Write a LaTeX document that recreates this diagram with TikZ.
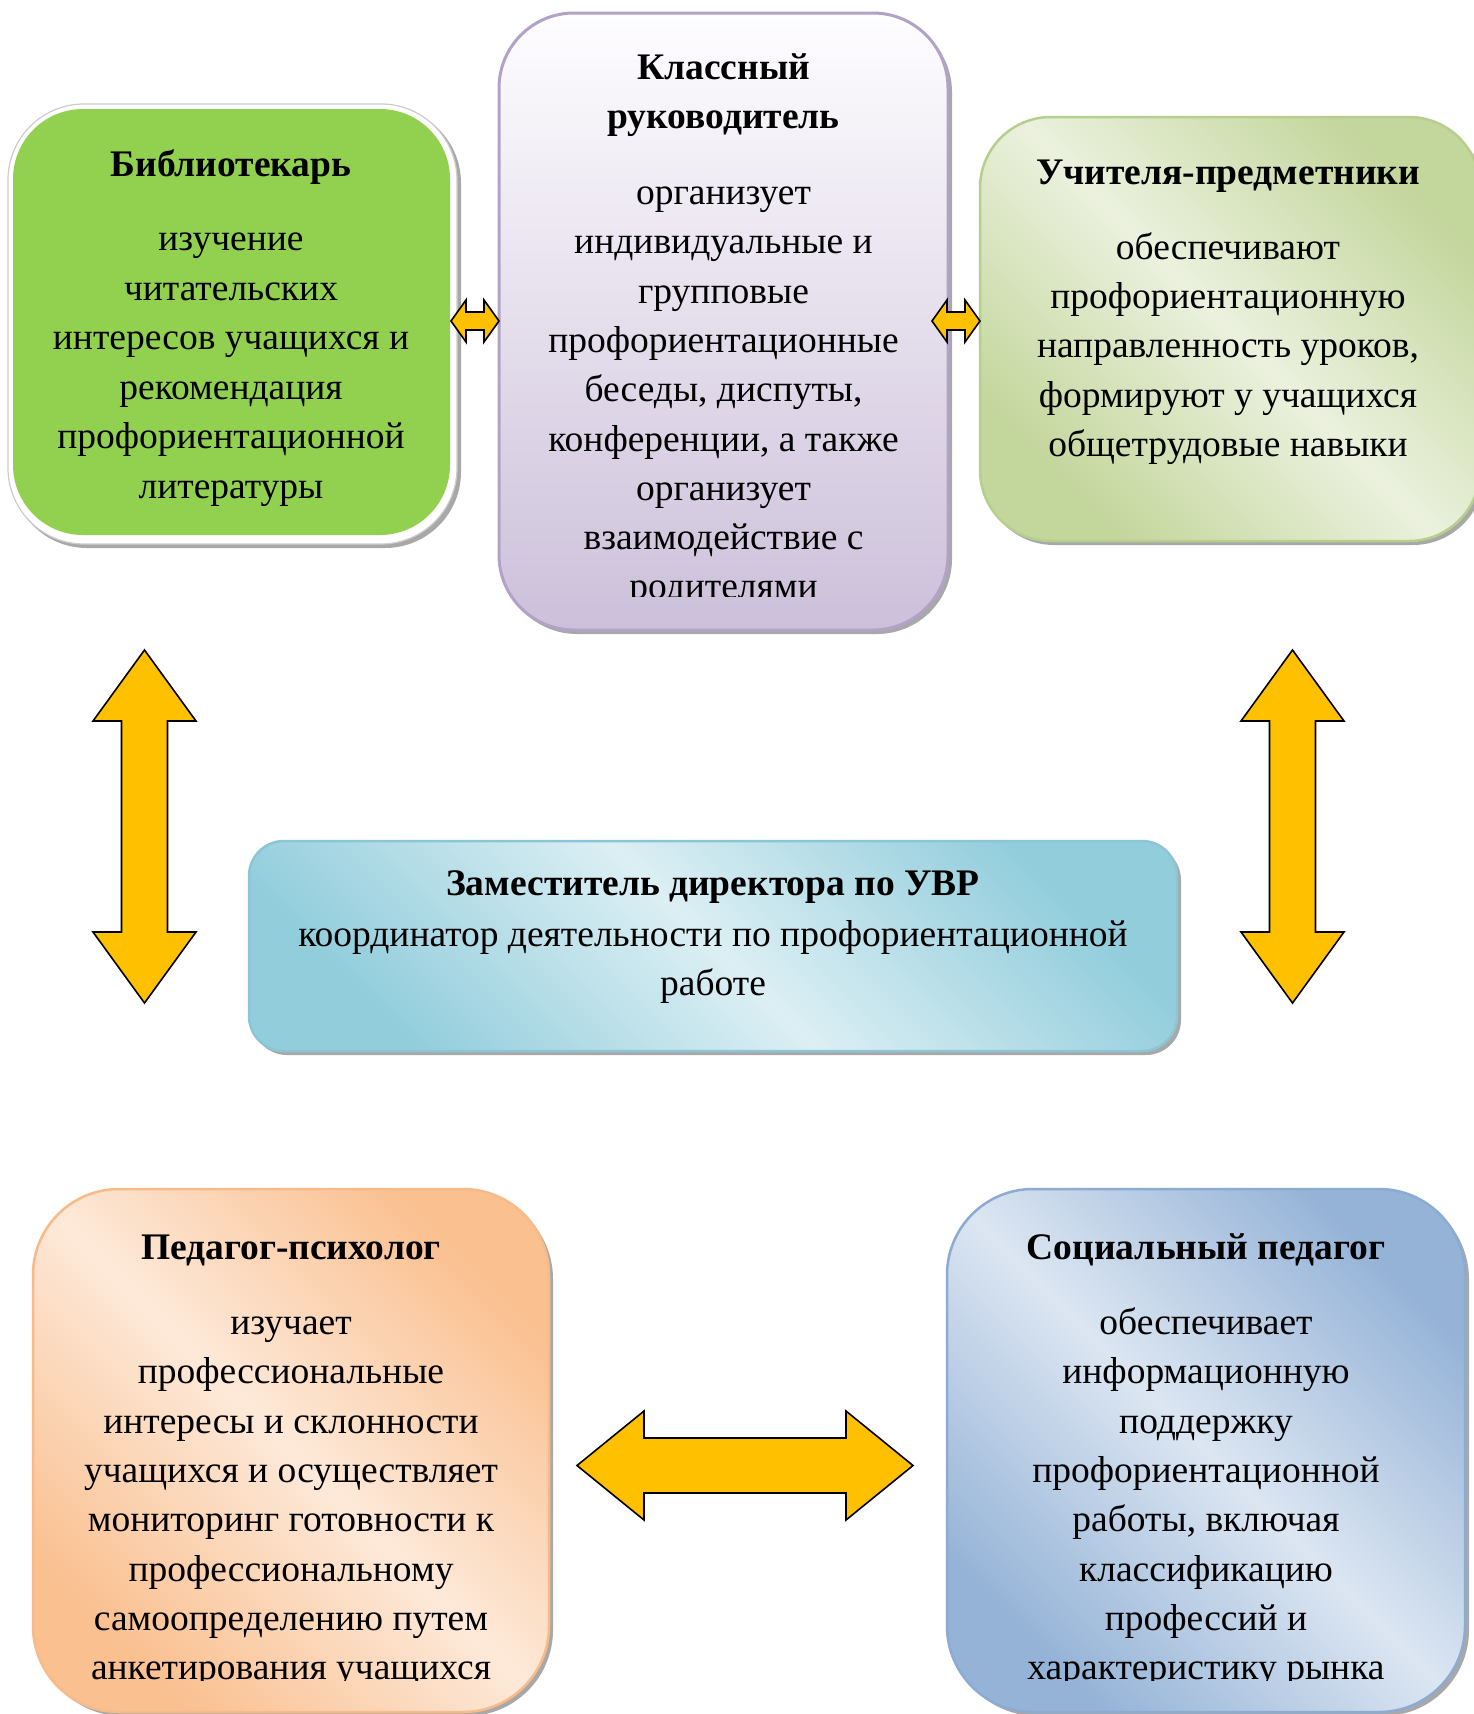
\documentclass[tikz,border=0pt]{standalone}
\usepackage{fontspec}
\setmainfont{Liberation Serif}
\definecolor{libgreen}{HTML}{92D050}
\definecolor{purptop}{HTML}{FEFDFF}
\definecolor{purpbot}{HTML}{CCC0DA}
\definecolor{purpedge}{HTML}{B3A2C7}
\definecolor{teachdark}{HTML}{C3D69B}
\definecolor{teachlight}{HTML}{EBF1DE}
\definecolor{teachedge}{HTML}{B7CF8C}
\definecolor{cdark}{HTML}{92CDDC}
\definecolor{clight}{HTML}{DCEFF4}
\definecolor{cedge}{HTML}{8CC6D5}
\definecolor{odark}{HTML}{FAC090}
\definecolor{olight}{HTML}{FDE9D9}
\definecolor{oedge}{HTML}{F8BA88}
\definecolor{bdark}{HTML}{95B3D7}
\definecolor{blight}{HTML}{DCE6F2}
\definecolor{bedge}{HTML}{8CABD3}
\definecolor{arrowfill}{HTML}{FFC000}
\definecolor{shadowc}{HTML}{A8A8A8}
\tikzset{
  body/.style={font=\fontsize{37.5}{49.3}\selectfont, inner sep=0pt, anchor=base},
  ttl/.style={font=\fontsize{37.5}{49.3}\selectfont\bfseries, inner sep=0pt, anchor=base},
  arrowshape/.style={fill=arrowfill, draw=black, line width=1.6pt, line join=miter},
  boxshadow/.style={fill=shadowc},
  bandshade/.style 2 args={left color=#1, right color=#1, middle color=#2, shading angle=-45},
}
% horizontal double block arrow: x1, x2, yc, half head, half shaft, head length
\newcommand\myHArrow[6]{%
  \draw[arrowshape] (#1,#3) -- ({#1+#6},{#3-#4}) -- ({#1+#6},{#3-#5}) -- ({#2-#6},{#3-#5})
    -- ({#2-#6},{#3-#4}) -- (#2,#3) -- ({#2-#6},{#3+#4}) -- ({#2-#6},{#3+#5})
    -- ({#1+#6},{#3+#5}) -- ({#1+#6},{#3+#4}) -- cycle;}
% vertical double block arrow: y1, y2, xc, half head, half shaft, head length
\newcommand\myVArrow[6]{%
  \draw[arrowshape] (#3,#1) -- ({#3+#4},{#1+#6}) -- ({#3+#5},{#1+#6}) -- ({#3+#5},{#2-#6})
    -- ({#3+#4},{#2-#6}) -- (#3,#2) -- ({#3-#4},{#2-#6}) -- ({#3-#5},{#2-#6})
    -- ({#3-#5},{#1+#6}) -- ({#3-#4},{#1+#6}) -- cycle;}
\begin{document}
\begin{tikzpicture}[x=1pt,y=-1pt]
\useasboundingbox (0,0) rectangle (1473,1714);
\fill[white] (0,0) rectangle (1473,1714);

% ---------- Library ----------
\fill[boxshadow, rounded corners=76] (11,107) rectangle (461,548);
\filldraw[fill=white, draw=black!20, line width=1.2pt, rounded corners=76] (8,104) rectangle (457,544);
\fill[libgreen, rounded corners=70] (13,109) rectangle (450,535);
\node[ttl] (libT) at (231,176.5) {Библиотекарь};
\foreach \t [count=\i from 0] in {изучение,читательских,интересов учащихся и,рекомендация,профориентационной,литературы}
  \node[body] (lib\i) at (231,{250.5+\i*49.6}) {\t};

% ---------- Class leader ----------
\fill[boxshadow, rounded corners=75] (502,17) rectangle (952,634);
\draw[top color=purptop, bottom color=purpbot, draw=purpedge, line width=3pt, rounded corners=75] (499,13) rectangle (948,630);
\node[ttl] (clsT1) at (723.5,79.5) {Классный};
\node[ttl] (clsT2) at (723.5,128.5) {руководитель};
\begin{scope}
  \clip (499,13) rectangle (948,596);
  \foreach \t [count=\i from 0] in {организует,индивидуальные и,групповые,профориентационные,{беседы, диспуты,},{конференции, а также},организует,взаимодействие с,родителями}
    \node[body] (cls\i) at (723.5,{204.5+\i*49.3}) {\t};
\end{scope}

% ---------- Subject teachers ----------
\fill[boxshadow, rounded corners=71] (983,121) rectangle (1484,545);
\draw[bandshade={teachdark}{teachlight}, draw=teachedge, line width=2.5pt, rounded corners=71] (980,117) rectangle (1480,541);
\node[ttl] (tchT) at (1228,184.5) {Учителя-предметники};
\foreach \t [count=\i from 0] in {обеспечивают,профориентационную,{направленность уроков,},формируют у учащихся,общетрудовые навыки}
  \node[body] (tch\i) at (1228,{259.5+\i*49.2}) {\t};

% ---------- Deputy director ----------
\fill[boxshadow, rounded corners=35] (252,845) rectangle (1181,1055);
\draw[bandshade={cdark}{clight}, draw=cedge, line width=2.5pt, rounded corners=35] (249,841) rectangle (1177,1051);
\node[ttl] (depT) at (713,895.5) {Заместитель директора по УВР};
\node[body] (dep1) at (713,946.5) {координатор деятельности по профориентационной};
\node[body] (dep2) at (713,995.5) {работе};

% ---------- Psychologist ----------
\fill[boxshadow, rounded corners=86] (37,1193) rectangle (553,1716);
\draw[bandshade={odark}{olight}, draw=oedge, line width=2.5pt, rounded corners=86] (33,1189) rectangle (549,1712);
\node[ttl] (psyT) at (291,1259.5) {Педагог-психолог};
\begin{scope}
  \clip (33,1189) rectangle (549,1680);
  \foreach \t [count=\i from 0] in {изучает,профессиональные,интересы и склонности,учащихся и осуществляет,мониторинг готовности к,профессиональному,самоопределению путем,анкетирования учащихся}
    \node[body] (psy\i) at (291,{1334.5+\i*49.3}) {\t};
\end{scope}

% ---------- Social pedagogue ----------
\fill[boxshadow, rounded corners=86] (951,1193) rectangle (1469,1716);
\draw[bandshade={bdark}{blight}, draw=bedge, line width=2.5pt, rounded corners=86] (947,1189) rectangle (1465,1712);
\node[ttl] (socT) at (1206,1259.5) {Социальный педагог};
\begin{scope}
  \clip (947,1189) rectangle (1465,1680);
  \foreach \t [count=\i from 0] in {обеспечивает,информационную,поддержку,профориентационной,{работы, включая},классификацию,профессий и,характеристику рынка}
    \node[body] (soc\i) at (1206,{1334.5+\i*49.3}) {\t};
\end{scope}

% ---------- Block arrows ----------
\myHArrow{451}{499}{321}{21}{9}{15}
\myHArrow{932}{980}{321}{21}{9}{15}
\myVArrow{650}{1003}{144.5}{51.5}{23}{71}
\myVArrow{650}{1003}{1292.5}{51.5}{23}{71}
\myHArrow{577}{913}{1465.5}{54.5}{27.5}{67}
\end{tikzpicture}
\end{document}
